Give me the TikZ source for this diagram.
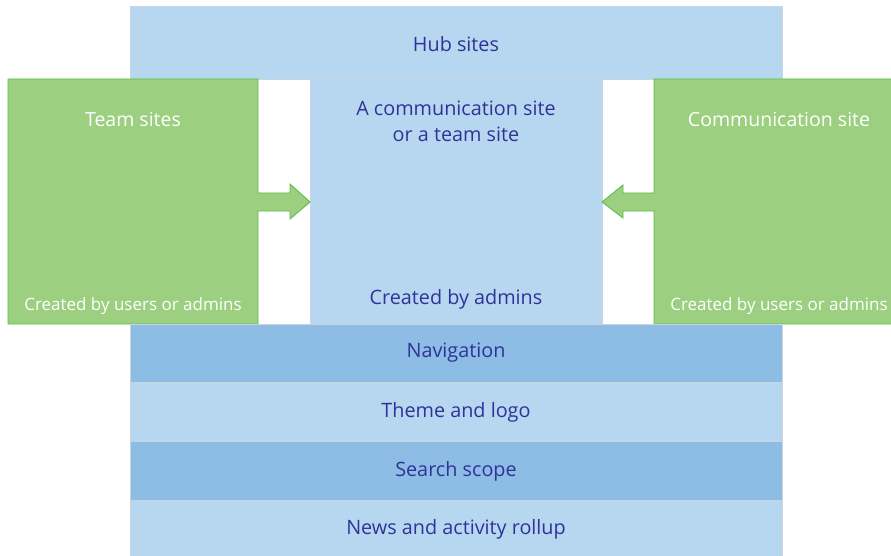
\documentclass[tikz,border=0pt]{standalone}
\usepackage{fontspec}
\setmainfont{Open Sans}
\definecolor{lblue}{HTML}{B6D7EF}
\definecolor{dblue}{HTML}{8DBDE5}
\definecolor{gfill}{HTML}{9CCF80}
\definecolor{gline}{HTML}{5BBF4A}
\definecolor{bline}{HTML}{C9D5E0}
\definecolor{tblue}{HTML}{2F3399}
\begin{document}
\begin{tikzpicture}[x=1pt,y=-1pt,
  lbox/.style={draw=bline,fill=lblue,line width=0.8pt},
  dbox/.style={draw=bline,fill=dblue,line width=0.8pt},
  gshape/.style={draw=gline,fill=gfill,line width=0.9pt,line join=miter},
  btext/.style={text=tblue,font=\fontsize{19.8}{26}\selectfont,align=center,inner sep=0pt},
  wtext/.style={text=white,font=\fontsize{19.5}{26}\selectfont,align=center,inner sep=0pt},
  stext/.style={text=white,font=\fontsize{17}{22}\selectfont,align=center,inner sep=0pt}]
\useasboundingbox (0,0) rectangle (891,556);
% hub
\draw[lbox] (130,6) rectangle (782,79);
\node[btext] (hub) at (456,44) {Hub sites};
% center
\draw[lbox] (310,79) rectangle (602,324);
\node[btext] (center) at (456,121.5) {A communication site\\or a team site};
\node[btext] (cadm) at (456,299) {Created by admins};
% left green with arrow
\coordinate (ltip) at (310,202);
\draw[gshape] (8,79) -- (258,79) -- (258,193) -- (290,193) -- (290,184) -- (ltip) -- (290,219) -- (290,211) -- (258,211) -- (258,324) -- (8,324) -- cycle;
\node[wtext] (team) at (133,119) {Team sites};
\node[stext] (lcre) at (133,306.5) {Created by users or admins};
% right green with arrow
\coordinate (rtip) at (602,202);
\draw[gshape] (891,79) -- (654,79) -- (654,193) -- (623,193) -- (623,185) -- (rtip) -- (623,218) -- (623,211) -- (654,211) -- (654,324) -- (891,324);
\node[wtext] (comm) at (779,119) {Communication site};
\node[stext] (rcre) at (779,306.5) {Created by users or admins};
% rows
\draw[dbox] (130,324) rectangle (782,382);
\node[btext] (nav) at (456,353) {Navigation};
\draw[lbox] (130,382) rectangle (782,441);
\node[btext] (theme) at (456,412) {Theme and logo};
\draw[dbox] (130,441) rectangle (782,500);
\node[btext] (search) at (456,471) {Search scope};
\draw[lbox] (130,500) rectangle (782,560);
\node[btext] (news) at (456,529) {News and activity rollup};
\end{tikzpicture}
\end{document}
